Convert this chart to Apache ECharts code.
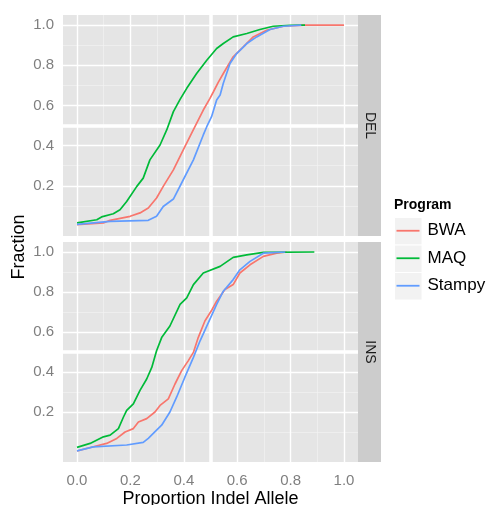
<!DOCTYPE html>
<html>
<head>
<meta charset="utf-8">
<script src="https://cdn.jsdelivr.net/npm/echarts@6/dist/echarts.min.js"></script>
<style>
  html, body { margin: 0; padding: 0; background: #fff; }
  #chart { width: 490px; height: 505px; }
</style>
</head>
<body>
<div id="chart"></div>
<script>
// Facets and programs
const facets = ['DEL', 'INS'];
const programs = ['BWA', 'MAQ', 'Stampy'];
const programColors = ['#F8766D', '#00BA38', '#619CFF'];

// Axis breaks
const xBreaks = [0, 0.2, 0.4, 0.6, 0.8, 1.0];
const xMinorBreaks = [0.1, 0.3, 0.7, 0.9];
const yBreaks = [0.2, 0.4, 0.6, 0.8, 1.0];
const yMinorBreaks = [0.1, 0.3, 0.7, 0.9];
const refValue = 0.5;

// Cumulative fraction curves: [proportion indel allele, fraction]
const delBWA = [[0,0.006],[0.099,0.015],[0.124,0.028],[0.199,0.048],[0.236,0.065],[0.267,0.089],[0.298,0.139],[0.323,0.197],[0.361,0.279],[0.398,0.379],[0.436,0.48],[0.473,0.577],[0.498,0.635],[0.511,0.668],[0.529,0.715],[0.548,0.759],[0.585,0.842],[0.623,0.891],[0.66,0.941],[0.71,0.974],[0.773,0.994],[0.85,1.0],[1.0,1.0]];
const delMAQ = [[0,0.015],[0.074,0.031],[0.092,0.045],[0.136,0.061],[0.161,0.081],[0.186,0.122],[0.224,0.197],[0.248,0.238],[0.273,0.329],[0.311,0.403],[0.336,0.478],[0.361,0.569],[0.386,0.63],[0.411,0.685],[0.448,0.759],[0.486,0.825],[0.523,0.883],[0.548,0.908],[0.585,0.941],[0.636,0.958],[0.685,0.978],[0.735,0.994],[0.798,0.999],[0.854,1.0]];
const delStampy = [[0,0.008],[0.124,0.023],[0.267,0.028],[0.298,0.048],[0.323,0.097],[0.361,0.134],[0.398,0.23],[0.436,0.329],[0.473,0.453],[0.486,0.494],[0.504,0.544],[0.523,0.627],[0.536,0.652],[0.548,0.71],[0.573,0.809],[0.598,0.858],[0.636,0.908],[0.673,0.941],[0.723,0.978],[0.773,0.994],[0.84,1.0]];
const insBWA = [[0,0.005],[0.061,0.026],[0.111,0.043],[0.149,0.068],[0.18,0.1],[0.211,0.117],[0.23,0.15],[0.261,0.167],[0.292,0.2],[0.311,0.233],[0.342,0.266],[0.367,0.34],[0.392,0.407],[0.417,0.457],[0.436,0.498],[0.454,0.572],[0.479,0.655],[0.505,0.71],[0.523,0.754],[0.554,0.812],[0.585,0.837],[0.61,0.895],[0.648,0.936],[0.698,0.978],[0.748,0.994],[0.785,1.0]];
const insMAQ = [[0,0.023],[0.049,0.043],[0.099,0.076],[0.124,0.084],[0.155,0.117],[0.174,0.175],[0.186,0.208],[0.211,0.241],[0.236,0.308],[0.261,0.365],[0.28,0.423],[0.298,0.506],[0.317,0.572],[0.348,0.63],[0.386,0.738],[0.411,0.771],[0.436,0.837],[0.473,0.895],[0.536,0.928],[0.585,0.973],[0.636,0.986],[0.698,0.998],[0.889,1.0]];
const insStampy = [[0,0.006],[0.061,0.026],[0.186,0.035],[0.248,0.048],[0.267,0.068],[0.298,0.109],[0.317,0.134],[0.348,0.2],[0.373,0.274],[0.404,0.374],[0.436,0.473],[0.461,0.556],[0.492,0.647],[0.523,0.738],[0.548,0.804],[0.585,0.862],[0.61,0.911],[0.648,0.953],[0.698,0.994],[0.78,1.0]];

const panelData = [[delBWA, delMAQ, delStampy], [insBWA, insMAQ, insStampy]];

// Layout
const FONT = '"Liberation Sans", Arial, Helvetica, sans-serif';
const plotLeft = 63, plotWidth = 295;
const panels = [{ top: 15, height: 221 }, { top: 242, height: 220 }];
const stripWidth = 23;
const panelBg = '#E5E5E5';
const stripBg = '#CCCCCC';
const axisGrey = '#7F7F7F';

const fmt = v => v.toFixed(1);

const grids = panels.map(p => ({
  left: plotLeft, top: p.top, width: plotWidth, height: p.height,
  show: true, backgroundColor: panelBg, borderWidth: 0,
  containLabel: false, outerBoundsMode: 'none'
}));

const xAxes = panels.map((p, i) => ({
  type: 'value', gridIndex: i, min: -0.0525, max: 1.0525,
  axisLine: { show: false },
  splitLine: { show: false },
  axisTick: { show: i === 1, customValues: xBreaks, length: 6, lineStyle: { color: axisGrey, width: 1 } },
  axisLabel: { show: i === 1, customValues: xBreaks, formatter: fmt, color: axisGrey, fontSize: 15, fontFamily: FONT, margin: 11 },
  name: i === 1 ? 'Proportion Indel Allele' : '',
  nameLocation: 'middle', nameGap: 28,
  nameTextStyle: { color: '#000', fontSize: 18, fontFamily: FONT }
}));

const yAxes = panels.map((p, i) => ({
  type: 'value', gridIndex: i, min: -0.05, max: 1.05,
  axisLine: { show: false },
  splitLine: { show: false },
  axisTick: { show: true, customValues: yBreaks, length: 5, lineStyle: { color: axisGrey, width: 1 } },
  axisLabel: { customValues: yBreaks, formatter: fmt, color: axisGrey, fontSize: 15, fontFamily: FONT, margin: 9 }
}));

// Panel grid lines and the 0.5 reference lines, drawn beneath the curves
function gridLines() {
  const d = [];
  xMinorBreaks.forEach(v => d.push({ xAxis: v, lineStyle: { color: '#F2F2F2', width: 0.7, type: 'solid' } }));
  yMinorBreaks.forEach(v => d.push({ yAxis: v, lineStyle: { color: '#F2F2F2', width: 0.7, type: 'solid' } }));
  xBreaks.forEach(v => d.push({ xAxis: v, lineStyle: { color: '#FFFFFF', width: 1.4, type: 'solid' } }));
  yBreaks.forEach(v => d.push({ yAxis: v, lineStyle: { color: '#FFFFFF', width: 1.4, type: 'solid' } }));
  d.push({ xAxis: refValue, lineStyle: { color: '#FFFFFF', width: 3.5, type: 'solid' } });
  d.push({ yAxis: refValue, lineStyle: { color: '#FFFFFF', width: 3.5, type: 'solid' } });
  return d;
}

const series = [];
panels.forEach((p, i) => {
  series.push({
    type: 'line', xAxisIndex: i, yAxisIndex: i, data: [], z: 1, silent: true,
    markLine: { z: 1, silent: true, symbol: ['none', 'none'], label: { show: false }, emphasis: { disabled: true }, data: gridLines() }
  });
  programs.forEach((name, k) => {
    series.push({
      name: name, type: 'line', xAxisIndex: i, yAxisIndex: i,
      data: panelData[i][k], showSymbol: false, symbol: 'none', z: 10,
      lineStyle: { color: programColors[k], width: 1.7 },
      itemStyle: { color: programColors[k] },
      clip: true
    });
  });
});

// Facet strips, axis title and legend key boxes
const graphics = [];
panels.forEach((p, i) => {
  graphics.push({
    type: 'rect', left: plotLeft + plotWidth, top: p.top,
    shape: { width: stripWidth, height: p.height },
    style: { fill: stripBg }, silent: true
  });
  graphics.push({
    type: 'text', x: plotLeft + plotWidth + stripWidth / 2, y: p.top + p.height / 2,
    rotation: -Math.PI / 2,
    style: { text: facets[i], fill: '#1A1A1A', font: '14px ' + FONT, align: 'center', verticalAlign: 'middle' }
  });
});
graphics.push({
  type: 'text', x: 19, y: 247,
  rotation: Math.PI / 2,
  style: { text: 'Fraction', fill: '#000', font: '18px ' + FONT, align: 'center', verticalAlign: 'middle' }
});
const legendLeft = 394, legendTop = 217, keySize = 27.5;
graphics.push({
  type: 'text', x: legendLeft, y: 205,
  style: { text: 'Program', fill: '#000', font: 'bold 14px ' + FONT, align: 'left', verticalAlign: 'middle' }
});
programs.forEach((name, k) => {
  graphics.push({
    type: 'rect', left: legendLeft, top: legendTop + k * keySize, z: 0,
    shape: { width: keySize, height: keySize },
    style: { fill: '#F2F2F2', stroke: '#FFFFFF', lineWidth: 1 }, silent: true
  });
});

const option = {
  animation: false,
  backgroundColor: '#FFFFFF',
  grid: grids,
  xAxis: xAxes,
  yAxis: yAxes,
  legend: {
    data: programs,
    orient: 'vertical',
    left: legendLeft + 2.5, top: legendTop,
    icon: 'rect', itemWidth: 23, itemHeight: 1.8, itemGap: 0,
    selectedMode: false,
    textStyle: { fontSize: 17, fontFamily: FONT, color: '#000', lineHeight: keySize, padding: [0, 0, 0, 3] },
    padding: 0
  },
  graphic: graphics,
  series: series
};

const chart = echarts.init(document.getElementById('chart'), null, { renderer: 'canvas' });
chart.setOption(option);
</script>
</body>
</html>
